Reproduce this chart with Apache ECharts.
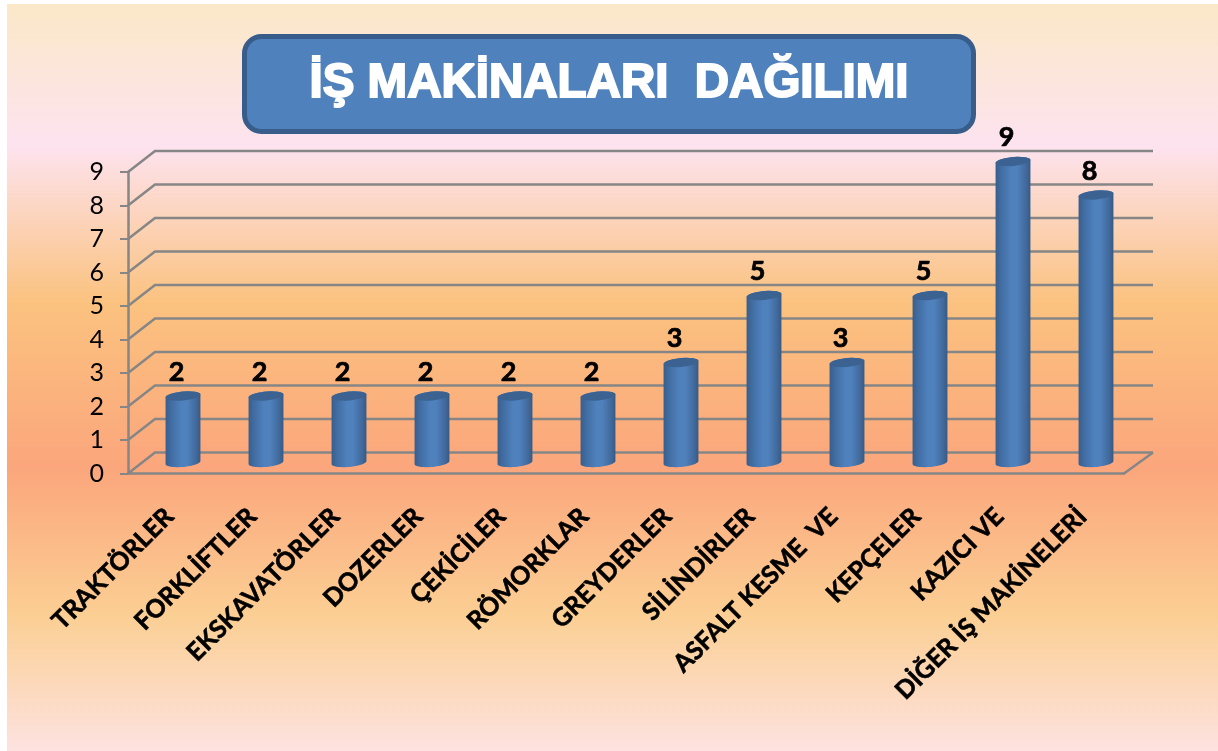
<!DOCTYPE html>
<html>
<head>
<meta charset="utf-8">
<style>html,body{margin:0;padding:0;background:#fff}#chart{width:1218px;height:751px}</style>
<script src="https://cdn.jsdelivr.net/npm/echarts@6/dist/echarts.min.js"></script>
</head>
<body>
<div id="chart"></div>
<script>
const titleText = 'İŞ MAKİNALARI  DAĞILIMI';
const categories = ['TRAKTÖRLER', 'FORKLİFTLER', 'EKSKAVATÖRLER', 'DOZERLER', 'ÇEKİCİLER', 'RÖMORKLAR', 'GREYDERLER', 'SİLİNDİRLER', 'ASFALT KESME  VE', 'KEPÇELER', 'KAZICI VE', 'DİĞER İŞ MAKİNELERİ'];
const values = [2, 2, 2, 2, 2, 2, 3, 5, 3, 5, 9, 8];
const yTicks = [0, 1, 2, 3, 4, 5, 6, 7, 8, 9];

const GRID_COLOR = '#868686';
// depth of the fake 3D box
const DX = 27, DY = -21;

const chart = echarts.init(document.getElementById('chart'));

const ellipsePts = (cx, cy, rx, ry, tilt, from, to) => {
  const pts = [];
  for (let i = 0; i <= 24; i++) {
    const a = from + (to - from) * i / 24;
    const ex = rx * Math.cos(a), ey = ry * Math.sin(a);
    pts.push([cx + ex * Math.cos(tilt) - ey * Math.sin(tilt), cy + ex * Math.sin(tilt) + ey * Math.cos(tilt)]);
  }
  return pts;
};

const renderWall = (params, api) => {
  const cs = params.coordSys;
  const y = api.coord([0, api.value(0)])[1];
  const x0 = cs.x, x1 = cs.x + cs.width;
  const pts = [[x0, y], [x0 + DX, y + DY], [x1 + DX + 2, y + DY]];
  const children = [{ type: 'polyline', shape: { points: pts }, style: { stroke: GRID_COLOR, lineWidth: 2.5, fill: null } }];
  if (api.value(0) === 0) {
    children.push({ type: 'line', shape: { x1: x1, y1: y, x2: x1 + DX + 2, y2: y + DY }, style: { stroke: GRID_COLOR, lineWidth: 2.5 } });
  }
  return { type: 'group', children };
};

const renderBar = (params, api) => {
  const top = api.coord([api.value(0), api.value(1)]);
  const base = api.coord([api.value(0), 0]);
  const cx = top[0] + 13.5;
  const rx = 17.5, ry = 4.4, tilt = -0.09, lift = -11;
  const topY = top[1] + lift + 0.5, baseY = base[1] + lift;
  const bodyPts = ellipsePts(cx, baseY, rx, ry, tilt, Math.PI, 0)
    .concat(ellipsePts(cx, topY, rx, ry, tilt, 0, -Math.PI));
  return {
    type: 'group',
    children: [
      {
        type: 'polygon',
        shape: { points: bodyPts },
        style: {
          fill: new echarts.graphic.LinearGradient(0, 0, 1, 0, [
            { offset: 0, color: '#385d8a' },
            { offset: 0.12, color: '#3f6a9e' },
            { offset: 0.45, color: '#4f81bd' },
            { offset: 0.62, color: '#4f81bd' },
            { offset: 0.88, color: '#41699b' },
            { offset: 1, color: '#375a85' }
          ])
        }
      },
      {
        type: 'polygon',
        shape: { points: ellipsePts(cx, topY, rx, ry, tilt, 0, Math.PI * 2) },
        style: { fill: '#3b6291' }
      },
      {
        type: 'text',
        style: {
          text: String(api.value(1)),
          x: cx - 6.5,
          y: topY - 24,
          align: 'center',
          verticalAlign: 'middle',
          font: 'bold 27px Lato',
          fill: '#000',
          stroke: '#000',
          lineWidth: 0.7
        }
      }
    ]
  };
};

chart.setOption({
  animation: false,
  graphic: [{
    type: 'rect',
    z: -10,
    shape: { x: 7, y: 4, width: 1211, height: 747 },
    style: {
      fill: new echarts.graphic.LinearGradient(0, 0, 0, 1, [
        { offset: 0, color: '#fbe8c8' },
        { offset: 0.19, color: '#fde3ef' },
        { offset: 0.4, color: '#fbc27f' },
        { offset: 0.62, color: '#fba67c' },
        { offset: 0.82, color: '#fbcf94' },
        { offset: 1, color: '#fde2e0' }
      ])
    }
  }],
  title: {
    text: titleText,
    left: 'center',
    top: 36,
    padding: [21, 64, 22, 64],
    backgroundColor: '#4f81bd',
    borderColor: '#385d8a',
    borderWidth: 5,
    borderRadius: 17,
    textStyle: { color: '#fff', fontFamily: 'Liberation Sans', fontWeight: 'bold', fontSize: 47.5, lineHeight: 53, textBorderColor: '#fff', textBorderWidth: 2 }
  },
  grid: { left: 128, right: 94, top: 172, bottom: 277.5 },
  xAxis: {
    type: 'category',
    data: categories,
    axisLine: { lineStyle: { color: GRID_COLOR, width: 2.5 } },
    axisTick: { alignWithLabel: false, length: 8, lineStyle: { color: GRID_COLOR, width: 2 } },
    axisLabel: { interval: 0, rotate: 45, margin: 39, color: '#000', fontFamily: 'Lato', fontWeight: 'bold', fontSize: 25, textBorderColor: '#000', textBorderWidth: 0.6 }
  },
  yAxis: {
    type: 'value',
    min: 0,
    max: 9,
    interval: 1,
    splitLine: { show: false },
    axisLine: { show: true, lineStyle: { color: GRID_COLOR, width: 2.5 } },
    axisTick: { show: true, length: 8, lineStyle: { color: GRID_COLOR, width: 2 } },
    axisLabel: { margin: 24, padding: [3, 0, 0, 0], color: '#000', fontFamily: 'Lato', fontSize: 25 }
  },
  series: [
    {
      type: 'custom',
      name: 'walls',
      renderItem: renderWall,
      encode: { y: 0 },
      data: yTicks.map(v => [v]),
      z: 1,
      silent: true
    },
    {
      type: 'custom',
      name: 'İş makinaları',
      renderItem: renderBar,
      encode: { x: 0, y: 1 },
      data: values.map((v, i) => [i, v]),
      clip: false,
      z: 2
    }
  ]
});
</script>
</body>
</html>
